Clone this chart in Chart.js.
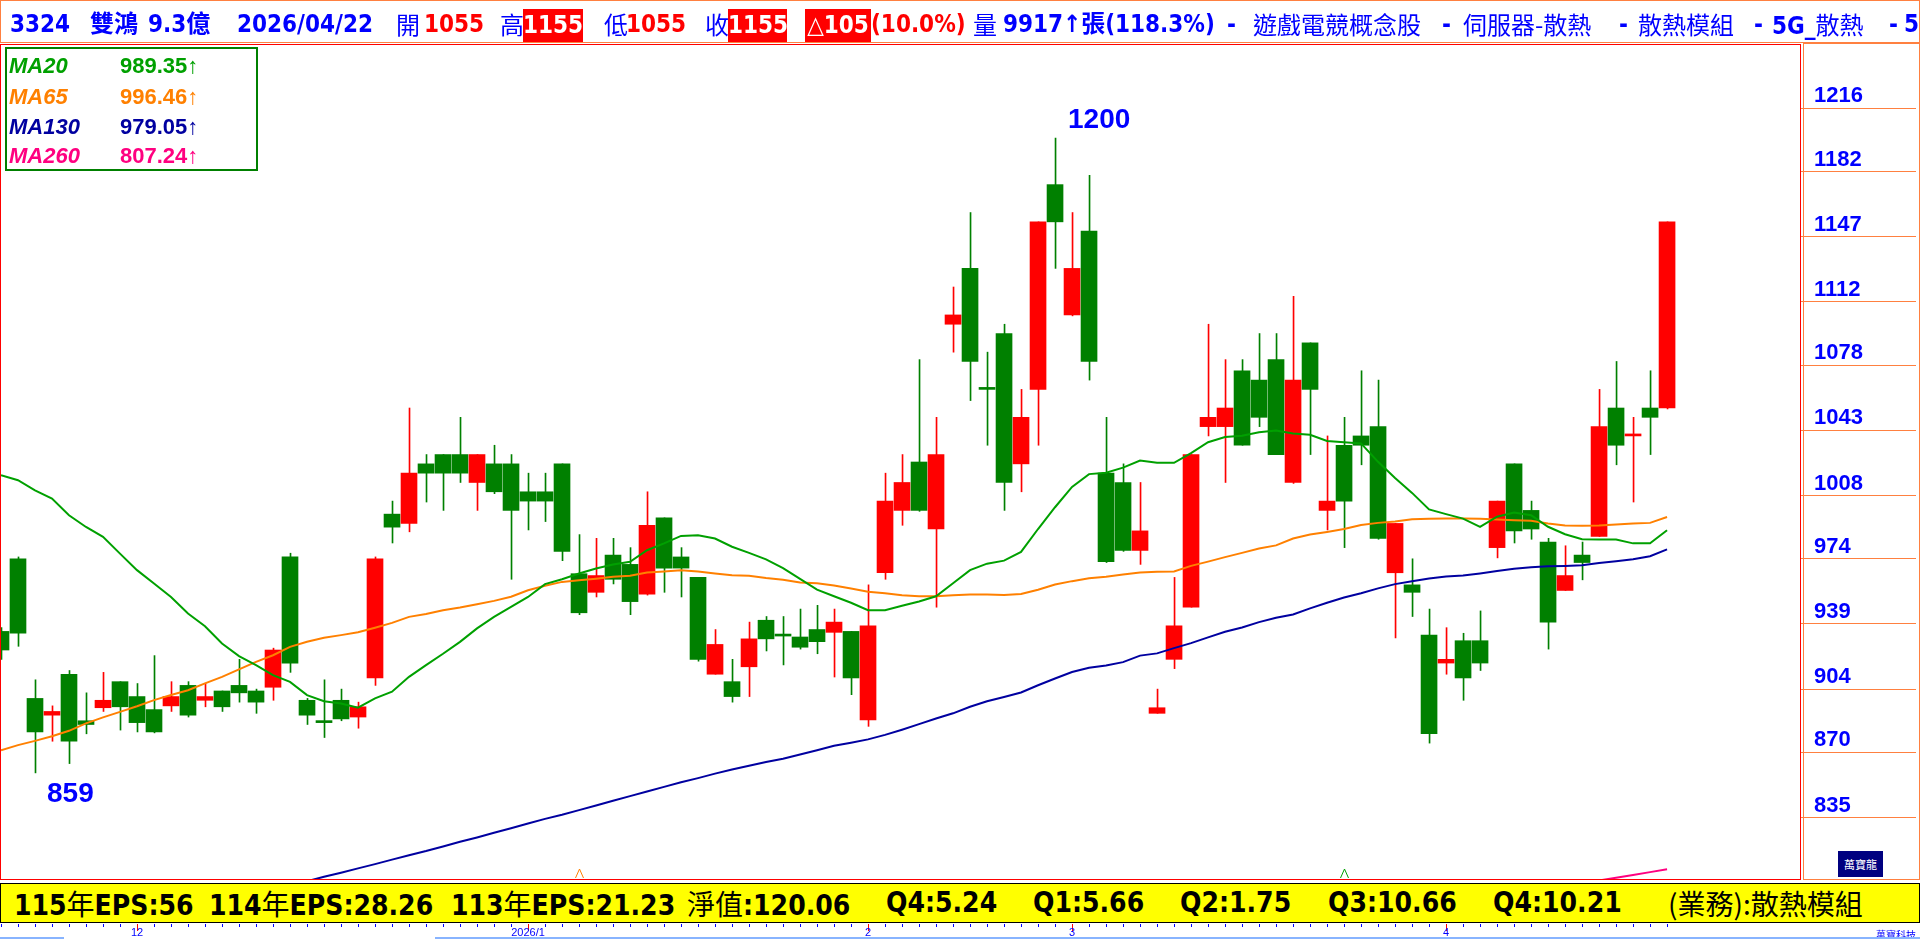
<!DOCTYPE html>
<html>
<head>
<meta charset="utf-8">
<title>3324 雙鴻</title>
<script src="https://cdn.jsdelivr.net/npm/chart.js@4.4.1/dist/chart.umd.min.js"></script>
<style>
  html, body { margin:0; padding:0; background:#fff; }
  body { width:1920px; height:939px; position:relative; overflow:hidden; font-family:"Liberation Sans", Arial, sans-serif; }
  #c { position:absolute; left:0; top:0; }
  .box { position:absolute; box-sizing:border-box; }
  .t { position:absolute; white-space:nowrap; }
  .cj { font-family:"Noto Sans CJK TC", sans-serif; font-weight:normal; }

  #head { left:0; top:0; width:1920px; height:43px; border:1px solid #ff8040; }
  #head .t { top:4px; height:38px; line-height:38px; font-family:"DejaVu Sans Condensed","DejaVu Sans","Noto Sans CJK TC",sans-serif; font-weight:bold; font-size:24px; color:#0000ff; }
  #head .t.cj { font-family:"Noto Sans CJK TC",sans-serif; font-weight:normal; }
  #head .r { color:#ff0000; }
  #head .rb { background:#ff0000; color:#fff; top:8px; height:33px; line-height:33px; text-align:center; }

  #plot { left:0; top:44px; width:1801px; height:836px; border:1px solid #ff0000; }
  #axp { left:1803px; top:43px; width:117px; height:837px; border:1px solid #ff8040; }
  #logo { left:1838px; top:851px; width:45px; height:26px; background:#000080; color:#fff; font:11px "Noto Sans CJK TC",sans-serif; text-align:center; line-height:26px; }

  #leg { left:5px; top:47px; width:253px; height:124px; border:2px solid #008000; }
  #leg .t { height:30px; line-height:30px; font-size:22px; font-weight:bold; }
  #leg .nm { left:2px; font-style:italic; }
  #leg .val { left:113px; }

  .ann { position:absolute; font:bold 28px "Liberation Sans",Arial,sans-serif; color:#0000ff; line-height:28px; white-space:nowrap; }

  #eps { left:0; top:883px; width:1920px; height:40px; background:#ffff00; border:1px solid #000; }
  #eps .t { top:0; height:38px; line-height:38px; font-family:"DejaVu Sans Condensed","DejaVu Sans",sans-serif; font-weight:bold; font-size:28px; color:#000; }

  .xl { position:absolute; top:926px; font:11px "Liberation Sans",Arial,sans-serif; color:#0000ff; transform:translateX(-50%); white-space:nowrap; line-height:12px; }
  #brand { left:1876px; top:927px; font:10px "Noto Sans CJK TC",sans-serif; color:#0000ff; }
  .bl { position:absolute; top:937px; height:2px; background:#88b4ff; }
</style>
</head>
<body>
<canvas id="c" width="1920" height="939"></canvas>

<div id="head" class="box">
  <span class="t" style="left:9px">3324</span>
  <span class="t" style="left:89px">雙鴻</span>
  <span class="t" style="left:147px">9.3億</span>
  <span class="t" style="left:236px">2026/04/22</span>
  <span class="t cj" style="left:395px">開</span><span class="t r" style="left:423px">1055</span>
  <span class="t cj" style="left:499px">高</span><span class="t rb" style="left:522px;width:60px">1155</span>
  <span class="t cj" style="left:603px">低</span><span class="t r" style="left:625px">1055</span>
  <span class="t cj" style="left:704px">收</span><span class="t rb" style="left:727px;width:59px">1155</span>
  <span class="t rb" style="left:804px;width:66px">△105</span><span class="t r" style="left:870px">(10.0%)</span>
  <span class="t cj" style="left:972px">量</span>
  <span class="t" style="left:1002px">9917↑張(118.3%)</span>
  <span class="t" style="left:1226px">-</span>
  <span class="t cj" style="left:1252px">遊戲電競概念股</span>
  <span class="t" style="left:1441px">-</span>
  <span class="t cj" style="left:1462px">伺服器-散熱</span>
  <span class="t" style="left:1618px">-</span>
  <span class="t cj" style="left:1637px">散熱模組</span>
  <span class="t" style="left:1753px">-</span>
  <span class="t" style="left:1771px">5G_<span class="cj">散熱</span></span>
  <span class="t" style="left:1888px">-</span>
  <span class="t" style="left:1903px">5</span>
</div>

<div id="plot" class="box"></div>
<div id="axp" class="box"></div>
<div id="logo" class="box">萬寶龍</div>

<div id="leg" class="box">
  <span class="t nm" style="top:2px;color:#00a000">MA20</span><span class="t val" style="top:2px;color:#00a000">989.35↑</span>
  <span class="t nm" style="top:33px;color:#ff8000">MA65</span><span class="t val" style="top:33px;color:#ff8000">996.46↑</span>
  <span class="t nm" style="top:63px;color:#0000a0">MA130</span><span class="t val" style="top:63px;color:#0000a0">979.05↑</span>
  <span class="t nm" style="top:92px;color:#ff0080">MA260</span><span class="t val" style="top:92px;color:#ff0080">807.24↑</span>
</div>

<div id="hiLbl" class="ann"></div>
<div id="loLbl" class="ann"></div>

<div id="eps" class="box">
  <span class="t" style="left:13px">115<span class="cj">年</span>EPS:56</span>
  <span class="t" style="left:208px">114<span class="cj">年</span>EPS:28.26</span>
  <span class="t" style="left:450px">113<span class="cj">年</span>EPS:21.23</span>
  <span class="t" style="left:686px"><span class="cj">淨值</span>:120.06</span>
  <span class="t" style="left:885px">Q4:5.24</span>
  <span class="t" style="left:1032px">Q1:5.66</span>
  <span class="t" style="left:1179px">Q2:1.75</span>
  <span class="t" style="left:1327px">Q3:10.66</span>
  <span class="t" style="left:1492px">Q4:10.21</span>
  <span class="t" style="left:1667px"><span class="cj">(業務):散熱模組</span></span>
</div>

<div id="xlabels"></div>
<span id="brand" class="t">萬寶科技</span>
<div class="bl" style="left:0;width:64px"></div>
<div class="bl" style="left:435px;width:1485px"></div>

<script>
// trading days, 2025/11/19 .. 2026/04/22
var nov = ['11/19','11/20','11/21','11/24','11/25','11/26','11/27','11/28'];
var dec = ['12/01','12/02','12/03','12/04','12/05','12/08','12/09','12/10','12/11','12/12',
           '12/15','12/16','12/17','12/18','12/19','12/22','12/23','12/24','12/25','12/26',
           '12/29','12/30','12/31'];
var jan = ['01/05','01/06','01/07','01/08','01/09','01/12','01/13','01/14','01/15','01/16',
           '01/19','01/20','01/21','01/22','01/23','01/26','01/27','01/28','01/29','01/30'];
var feb = ['02/02','02/03','02/04','02/05','02/06','02/09','02/10','02/11','02/23','02/24','02/25','02/26'];
var mar = ['03/02','03/03','03/04','03/05','03/06','03/09','03/10','03/11','03/12','03/13',
           '03/16','03/17','03/18','03/19','03/20','03/23','03/24','03/25','03/26','03/27',
           '03/30','03/31'];
var apr = ['04/01','04/02','04/07','04/08','04/09','04/10','04/13','04/14','04/15','04/16',
           '04/17','04/20','04/21','04/22'];
var dates = nov.concat(dec, jan, feb, mar, apr);

var opens = [935,974,899,890,912,887,894,908,900,893,
  895,906,898,903,906,903,905,975,898,886,
  898,889,910,998,993,1025,1030,1030,1015,1025,
  1025,1010,1010,1025,966,956,976,971,955,996,
  975,964,912,908,916,941,933.5,932,936,934.5,
  935,887.5,966.5,1000,1026,990,1100,1130,1065,1095,
  1025,1065,1175,1105,1150,1020,1015,978.5,891,920,
  948,1045,1045,1075,1070,1081,1015,1090,1000,1035,
  1040,1045,966.5,960,933,918,930,930,980,1025,
  1000,983,957,976,986,1055,1040,1055,1055];
var highs = [937,975,909,895,914,902,913,908,907,922,
  908,908,907,903,920,904,926,977,899,909,
  904,897,975,1005,1055,1030,1030,1050,1030,1035,
  1030,1020,1020,1025,987,985,985,980,1010,996,
  980,964,936,920,940,943,943,947,949,947,
  935,960,1020,1030,1081,1050,1120,1160,1085,1100,
  1065,1155,1200,1160,1180,1050,1025,1015,904,964,
  1030,1100,1081,1081,1095,1095,1115,1090,1040,1050,
  1075,1070,993,974,947,937,934,946,1005,1025,
  1005,985,981,983,1065,1080,1050,1075,1155];
var lows = [920,927,859,876,864,880,892,882,881,880.5,
  892,889,894.5,892,897,891,898,913,885,878,
  887,883,906,982.5,988.5,1004.5,1000,1015,1000,1009,
  963,989.5,994,973,944,953.5,960.5,944,954.5,956,
  953.5,919,912,897,900,924.5,917,925.5,923,910.5,
  901,884,963,992,999.5,948,1085,1059,1035,1000,
  1010,1035,1130,1104.5,1070,972,978,971,891,915,
  948,1040,1015,1035,1045,1030,1014.5,1030,989.5,980,
  1024.5,984.5,931.5,943,875,912,898,914,974.5,982.5,
  984.5,925.5,957,962.7,986,1024.5,1004.5,1030,1054.5];
var closes = [925,934,881,892,876,885,898,894.5,886,881,
  900,890,900,894.5,902,897,925,918,890,886,
  888,894.5,974,991,1020,1020,1020,1020,1030,1010,
  1000,1005,1005,978,945,965,963,951,992,969,
  969,920,928,900,931,931,932.5,926.5,929.5,940,
  910,938,1005,1015,1000,1030,1105,1080,1065,1015,
  1050,1155,1155,1130,1080,972.5,978.5,989,894,938,
  1030,1050,1055,1035,1050,1030,1070,1065,1005,1005,
  1035,985,993,956,880,920,910,918,1005,989,
  990,940,965,972,1045,1035,1040,1050,1155];

var ma20 = [1018.9,1016.2,1010.8,1006.4,997.4,991.1,985.8,976.8,967.9,960.7,
  953.5,944.6,937.8,928.5,921.7,916.9,911.5,907.9,900.8,897.5,
  896.3,894,899,902.6,910.6,916.9,923,929.4,936.6,942.8,
  948.2,953.5,960.4,963,966.1,968.8,970.9,972.4,978.6,982.3,
  986.3,986.7,984.9,980.5,977.2,973.7,969,963.2,957.4,953.9,
  950.4,946.4,946.4,948.8,951.1,953.9,960.9,967.9,971.4,973,
  977.7,990,1001.7,1012.6,1019.5,1020.2,1023,1026.8,1025.6,1025.6,
  1030.8,1036.6,1039.4,1040.1,1042,1042.9,1041.3,1040.6,1037.3,1036.6,
  1036,1026.1,1017.4,1009.4,1000.5,998,995.6,991.2,996.6,998.9,
  997.4,991.2,987.2,984.5,984.4,984.4,982.3,982.3,989.35];
var ma65 = [871.2,873.9,876.2,878.7,881.6,885.6,888.8,891.8,894.8,898.1,
  900.8,903.4,907.1,910.6,914.6,918.6,922.2,926.7,929.4,931.6,
  933,934.5,937,939.6,942.8,944.3,946.4,947.8,949.6,951.4,
  953.6,957.1,959.5,961.6,962.5,963.3,964.3,964.9,966.6,967.2,
  967.9,967.2,966.1,965.2,964.9,963.7,962.8,961.3,960.9,959.7,
  958.1,956.3,955.5,954.4,953.9,953.9,954.4,954.8,954.8,954.6,
  955.1,957.4,960.2,962,963.5,964.4,965.6,966.7,967,967.2,
  970.2,972.5,974.9,977.2,979.5,981.2,984.9,987,988.4,990,
  992.2,993.3,994,995.3,995.5,995.7,995.6,995.5,995.1,994.7,
  994.4,993,991.9,991.7,991.9,992.4,993,993.3,996.46];
var ma130 = [null,null,null,null,null,null,null,null,null,null,
  null,null,null,null,null,null,null,798.5,800.8,803.2,
  805.4,807.7,810,812.4,814.8,817,819.5,822,824.3,826.8,
  829.3,831.8,834.3,836.5,839,841.5,844,846.5,849,851.5,
  854,856.2,858.6,860.8,862.8,864.8,866.6,868.9,871.2,873.6,
  875.2,877,879.4,882.2,885.2,888.2,891,894.5,897.5,899.8,
  902.2,906.1,909.7,913.2,915.5,916.7,918.5,922,923.2,926,
  928.7,931.8,934.8,937.1,940,942.3,944.1,947.4,950.4,953.2,
  955.5,958.1,960.4,962,963.4,964.5,965,966.1,967.4,968.6,
  969.5,970,970.2,970.6,971.8,972.7,973.8,975.4,979.05];
var ma260 = [];
for (var i = 0; i < 93; i++) ma260.push(null);
ma260 = ma260.concat([800,801.2,802.7,804.2,805.7,807.24]);

var yTicks = [1216,1182,1147,1112,1078,1043,1008,974,939,904,870,835];
var monthIdx = [8,31,51,63,85];
var monthText = ['12','2026/1','2','3','4'];
var markIdx = [34,79];
var markColor = ['#ff8000','#00a000'];

var UP = '#ff0000', DOWN = '#008000';
var X_MAX = 105.82;      // empty slots to the right of the last bar
var HALF = 0.5 / 17;     // half a pixel in index units, keeps the 1px wick crisp

var candleColor = closes.map(function (c, i) {
  var o = opens[i];
  if (c > o) return UP;
  if (c < o) return DOWN;
  return (i > 0 && c < closes[i - 1]) ? DOWN : UP;
});

function pts(arr) {
  var out = [];
  for (var i = 0; i < arr.length; i++) {
    if (arr[i] != null) out.push({x: i, y: arr[i]});
  }
  return out;
}

var bodyData = opens.map(function (o, i) { return {x: i, y: [o, closes[i]]}; });
var wickData = lows.map(function (l, i) { return {x: i, y: [l, highs[i]]}; });

function maLine(label, arr, color) {
  return {type: 'line', label: label, data: pts(arr), xAxisID: 'x', borderColor: color,
    borderWidth: 2, pointRadius: 0, tension: 0, fill: false, clip: 0, order: 0};
}

var stripPlugin = {
  id: 'strip',
  afterDraw: function (chart) {
    var ctx = chart.ctx, xs = chart.scales.x, area = chart.chartArea;
    ctx.save();
    ctx.lineWidth = 1;
    for (var i = 0; i < dates.length; i++) {
      var x = Math.round(xs.getPixelForValue(i)) + 0.5;
      var m = monthIdx.indexOf(i) >= 0;
      ctx.strokeStyle = m ? '#ff0000' : '#0000ff';
      ctx.beginPath();
      ctx.moveTo(x, 924);
      ctx.lineTo(x, m ? 931 : 927);
      ctx.stroke();
    }
    for (var j = 0; j < markIdx.length; j++) {
      var mx = Math.round(xs.getPixelForValue(markIdx[j])) + 0.5;
      ctx.strokeStyle = markColor[j];
      ctx.beginPath();
      ctx.moveTo(mx - 4, area.bottom - 1);
      ctx.lineTo(mx, area.bottom - 10);
      ctx.lineTo(mx + 4, area.bottom - 1);
      ctx.stroke();
    }
    ctx.restore();
  }
};

var chart = new Chart(document.getElementById('c'), {
  type: 'bar',
  data: {
    datasets: [
      maLine('MA20', ma20, '#00a000'),
      maLine('MA65', ma65, '#ff8000'),
      maLine('MA130', ma130, '#0000a0'),
      maLine('MA260', ma260, '#ff0080'),
      {type: 'bar', label: 'body', data: bodyData, xAxisID: 'x', backgroundColor: candleColor,
        borderWidth: 0, barThickness: 16, minBarLength: 2, grouped: false, clip: 0, order: 1},
      {type: 'bar', label: 'wick', data: wickData, xAxisID: 'x2', backgroundColor: candleColor,
        borderWidth: 0, barThickness: 1, grouped: false, clip: 0, order: 2}
    ]
  },
  options: {
    responsive: false,
    animation: false,
    devicePixelRatio: 1,
    layout: {padding: {left: 1, top: 45, right: 0, bottom: 60}},
    plugins: {legend: {display: false}, tooltip: {enabled: false}},
    events: [],
    scales: {
      x: {type: 'linear', min: 0, max: X_MAX, offset: false, display: false},
      x2: {type: 'linear', min: -HALF, max: X_MAX - HALF, offset: false, display: false},
      y: {
        type: 'linear', position: 'right', min: 802, max: 1250,
        afterBuildTicks: function (s) { s.ticks = yTicks.map(function (v) { return {value: v}; }); },
        afterFit: function (s) { s.width = 120; },
        border: {display: false},
        grid: {drawOnChartArea: false, drawTicks: true, tickLength: 116, color: '#ff8040', lineWidth: 1},
        ticks: {
          color: '#0000ff', autoSkip: false, padding: -102, labelOffset: -12,
          font: {family: 'Liberation Sans', weight: 'bold', size: 22},
          callback: function (v) { return String(v); }
        }
      }
    }
  },
  plugins: [stripPlugin]
});

// high / low notes
var xs = chart.scales.x, ys = chart.scales.y;
var hiIdx = highs.indexOf(Math.max.apply(null, highs));
var loIdx = lows.indexOf(Math.min.apply(null, lows));
var hi = document.getElementById('hiLbl');
hi.textContent = String(highs[hiIdx]);
hi.style.left = (xs.getPixelForValue(hiIdx) + 13) + 'px';
hi.style.top = (ys.getPixelForValue(highs[hiIdx]) - 33) + 'px';
var lo = document.getElementById('loLbl');
lo.textContent = String(lows[loIdx]);
lo.style.left = (xs.getPixelForValue(loIdx) + 12) + 'px';
lo.style.top = (ys.getPixelForValue(lows[loIdx]) + 6) + 'px';

// month labels under the yellow bar
var xl = document.getElementById('xlabels');
monthIdx.forEach(function (k, j) {
  var s = document.createElement('span');
  s.className = 'xl';
  s.textContent = monthText[j];
  s.style.left = xs.getPixelForValue(k) + 'px';
  xl.appendChild(s);
});
</script>
</body>
</html>
